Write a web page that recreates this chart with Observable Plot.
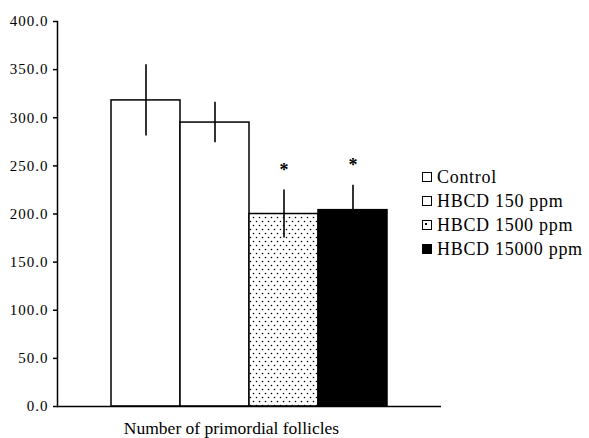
<!DOCTYPE html>
<html><head><meta charset="utf-8">
<script src="https://cdn.jsdelivr.net/npm/d3@7"></script>
<script src="https://cdn.jsdelivr.net/npm/@observablehq/plot@0.6"></script>
<style>
body{margin:0;background:#fff;}
#wrap{position:relative;width:589px;height:438px;overflow:hidden;}
.legend{position:absolute;left:422px;top:165px;font-family:"Liberation Serif","Times New Roman",serif;font-size:18px;color:#000;}
.row{display:flex;align-items:center;height:24px;white-space:nowrap;}
.sw{width:8px;height:8px;border:1.6px solid #000;margin-right:5px;background:#fff;box-sizing:content-box;position:relative;}
</style></head><body><div id="wrap"></div>
<script>
const groups = ["Control", "HBCD 150 ppm", "HBCD 1500 ppm", "HBCD 15000 ppm"];
const means = [318, 295, 200, 204];
const errors = [37, 21, 25, 26];
const significant = [false, false, true, true];
const fills = ["white", "white", "url(#dots)", "black"];
const yTicks = [0, 50, 100, 150, 200, 250, 300, 350, 400];
const xTitle = "Number of primordial follicles";
const FONT = "Liberation Serif, Times New Roman, serif";

const data = groups.map((g, i) => ({
  group: g, mean: means[i], lo: means[i] - errors[i], hi: means[i] + errors[i],
  sig: significant[i], fill: fills[i]
}));

const chart = Plot.plot({
  width: 589, height: 438,
  marginLeft: 57, marginRight: 148, marginTop: 21, marginBottom: 32,
  style: {fontFamily: FONT, fontSize: "15px", background: "white", color: "black"},
  x: {domain: groups, paddingInner: 0, paddingOuter: 0.743, axis: null},
  y: {domain: [0, 400], axis: null},
  color: {type: "identity"},
  marks: [
    Plot.barY(data, {x: "group", y: "mean", fill: "fill", stroke: "black", strokeWidth: 1.5}),
    Plot.ruleX(data, {x: "group", y1: "lo", y2: "hi", stroke: "black", strokeWidth: 1.6}),
    Plot.text(data.filter(d => d.sig), {x: "group", y: "hi", text: () => "*", dy: -20, fontSize: 18, fontWeight: "bold", fontFamily: FONT}),
    Plot.axisY({ticks: yTicks, tickFormat: d => d.toFixed(1), tickSize: 4, tickPadding: 5, label: null, strokeWidth: 1.5, fontFamily: FONT, fontSize: 15}),
    Plot.frame({anchor: "left", strokeWidth: 1.5}),
    Plot.ruleY([0], {strokeWidth: 1.5}),
    Plot.text([xTitle], {frameAnchor: "bottom", dy: 27, dx: -18, fontSize: 17.5, fontFamily: FONT})
  ]
});

// widen tick labels a little like the scanned original
chart.querySelectorAll("g[aria-label='y-axis tick label'] text").forEach(t => t.setAttribute("letter-spacing", "1"));

const ns = "http://www.w3.org/2000/svg";
const defs = document.createElementNS(ns, "defs");
defs.innerHTML = '<pattern id="dots" width="6" height="8" patternUnits="userSpaceOnUse">' +
  '<rect width="6" height="8" fill="white"/>' +
  '<circle cx="1.5" cy="1.5" r="0.8" fill="black"/>' +
  '<circle cx="4.5" cy="5.5" r="0.8" fill="black"/></pattern>';
chart.insertBefore(defs, chart.firstChild);

const wrap = document.getElementById("wrap");
wrap.appendChild(chart);

const legend = document.createElement("div");
legend.className = "legend";
groups.forEach((g, i) => {
  const row = document.createElement("div");
  row.className = "row";
  const sw = document.createElement("span");
  sw.className = "sw";
  if (fills[i] === "black") sw.style.background = "#000";
  if (fills[i].startsWith("url")) {
    sw.innerHTML = '<span style="position:absolute;left:2px;top:2px;width:2px;height:2px;background:#000"></span>';
  }
  const t = document.createElement("span");
  t.textContent = g;
  t.style.letterSpacing = "0.7px";
  row.appendChild(sw); row.appendChild(t);
  legend.appendChild(row);
});
wrap.appendChild(legend);
</script>
</body></html>
